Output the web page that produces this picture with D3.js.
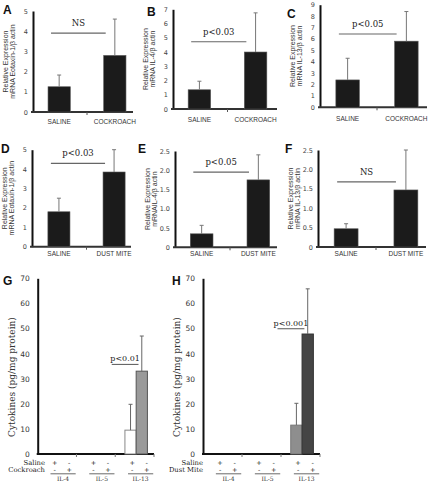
<!DOCTYPE html>
<html><head><meta charset="utf-8">
<script src="https://cdn.jsdelivr.net/npm/d3@7"></script>
<style>body{margin:0;background:#fff}svg{display:block}</style>
</head><body><svg id="c" width="428" height="483"></svg>
<script>
// ---------------- data ----------------
const catsCockroach = ["SALINE", "COCKROACH"];
const catsDustMite = ["SALINE", "DUST MITE"];
const eotaxinCockroach = [1.25, 2.8];
const eotaxinCockroachErr = [0.58, 1.8];
const il4Cockroach = [1.35, 4.0];
const il4CockroachErr = [0.6, 2.75];
const il13Cockroach = [2.4, 5.8];
const il13CockroachErr = [1.9, 2.6];
const eotaxinDustMite = [1.8, 3.85];
const eotaxinDustMiteErr = [0.7, 1.15];
const il4DustMite = [0.35, 1.75];
const il4DustMiteErr = [0.22, 0.65];
const il13DustMite = [0.47, 1.47];
const il13DustMiteErr = [0.13, 1.03];
const sigText = ["NS", "p<0.03", "p<0.05", "p<0.03", "p<0.05", "NS"];
const sigLevel = [3.9, 4.72, 6.43, 4.3, 1.95, 1.68];
const yMax = [5, 7, 9, 5, 2.5, 2.5];
const yStep = [1, 1, 1, 1, 0.5, 0.5];
const yLabelLine1 = "Relative Expression";
const yLabelLine2 = ["mRNA Eotaxin-1/\u03b2 actin", "mRNA IL-4/\u03b2 actin", "mRNA IL-13/\u03b2 actin",
                     "mRNA Eotaxin-1/\u03b2 actin", "mRNAIL-4/\u03b2 actin", "mRNA IL-13/\u03b2 actin"];
const panelLetters = ["A", "B", "C", "D", "E", "F", "G", "H"];

const cytokines = ["IL-4", "IL-5", "IL-13"];
const treatments = ["saline", "allergen"];
const cockroachSaline = [0, 0, 9.5];
const cockroachSalineErr = [0, 0, 10.3];
const cockroachAllergen = [0, 0, 33];
const cockroachAllergenErr = [0, 0, 14];
const dustMiteSaline = [0, 0, 11.5];
const dustMiteSalineErr = [0, 0, 8.7];
const dustMiteAllergen = [0, 0, 47.8];
const dustMiteAllergenErr = [0, 0, 18];
const proteinMax = 70;
const proteinStep = 10;
const salineSigns = ["+", "-"];
const allergenSigns = ["-", "+"];
const proteinSigText = ["p<0.01", "p<0.001"];
const proteinSigLevel = [35.7, 49.9];
const rowLabels = [["Saline", "Cockroach"], ["Saline", "Dust Mite"]];
const proteinYLabel = "Cytokines (pg/mg protein)";

// ---------------- layout ----------------
const svg = d3.select("#c");
svg.append("rect").attr("width", 428).attr("height", 483).attr("fill", "#fff");

const topLayout = [
  {x0: 33,  x1: 133, y0: 112,   yT: 11,    bx: [33, 141],  lx: 3,   ly: 14,  pad: 7},
  {x0: 173, x1: 277, y0: 109,   yT: 9.3,   bx: [173, 282], lx: 147, ly: 16,  pad: 8},
  {x0: 320, x1: 427, y0: 107.3, yT: 4.7,   bx: [320, 434], lx: 287, ly: 18,  pad: 9},
  {x0: 32,  x1: 131, y0: 246.7, yT: 149.7, bx: [33, 140],  lx: 1,   ly: 153, pad: 4},
  {x0: 175, x1: 277, y0: 247.3, yT: 151,   bx: [175, 285], lx: 138, ly: 153, pad: 4},
  {x0: 318, x1: 426, y0: 247,   yT: 150,   bx: [318, 434], lx: 285, ly: 153, pad: 4}
];

function topPanel(i, cats, vals, errs) {
  const L = topLayout[i];
  const g = svg.append("g");
  const y = d3.scaleLinear().domain([0, yMax[i]]).range([L.y0, L.yT]);
  const x = d3.scaleBand().domain(cats).range(L.bx).paddingInner(0.6).paddingOuter(0.27);
  const ticks = d3.range(0, yMax[i] + 1e-9, yStep[i]);
  const fmt = yStep[i] < 1 ? (d => d === 0 ? "0" : d3.format(".1f")(d)) : d3.format("d");

  const ya = g.append("g").attr("transform", `translate(${L.x0},0)`)
    .call(d3.axisLeft(y).tickValues(ticks).tickFormat(fmt).tickSize(0).tickPadding(5));
  ya.select(".domain").attr("stroke", "#111").attr("stroke-width", 2);
  ya.selectAll("text").attr("font-family", "DejaVu Sans").attr("font-size", 6.5).attr("fill", "#444");

  g.append("line").attr("x1", L.x0 - 2).attr("x2", L.x1).attr("y1", L.y0).attr("y2", L.y0)
    .attr("stroke", "#333").attr("stroke-width", 2);
  const mid = (x(cats[0]) + x.bandwidth() + x(cats[1])) / 2;
  g.append("line").attr("x1", mid).attr("x2", mid).attr("y1", L.y0).attr("y2", L.y0 + 3)
    .attr("stroke", "#555").attr("stroke-width", 1);

  const xa = g.append("g").attr("transform", `translate(0,${L.y0})`)
    .call(d3.axisBottom(x).tickSize(0).tickPadding(L.pad));
  xa.select(".domain").remove();
  xa.selectAll("text").attr("font-family", "Liberation Sans").attr("font-size", 7)
    .attr("fill", "#333").attr("transform", "scale(0.93,1)");

  cats.forEach((c, k) => {
    g.append("rect").attr("x", x(c)).attr("y", y(vals[k])).attr("width", x.bandwidth())
      .attr("height", y(0) - y(vals[k])).attr("fill", "#1b1b1b").attr("stroke", "#555").attr("stroke-width", 0.6);
    const cx = x(c) + x.bandwidth() / 2;
    g.append("line").attr("x1", cx).attr("x2", cx).attr("y1", y(vals[k])).attr("y2", y(vals[k] + errs[k]))
      .attr("stroke", "#777").attr("stroke-width", 1);
    g.append("line").attr("x1", cx - 2).attr("x2", cx + 2).attr("y1", y(vals[k] + errs[k])).attr("y2", y(vals[k] + errs[k]))
      .attr("stroke", "#777").attr("stroke-width", 1);
  });

  const sx1 = x(cats[0]) + 3, sx2 = x(cats[1]) + 2, sy = y(sigLevel[i]);
  g.append("line").attr("x1", sx1).attr("x2", sx2).attr("y1", sy).attr("y2", sy)
    .attr("stroke", "#666").attr("stroke-width", 1.2);
  g.append("text").attr("x", (sx1 + sx2) / 2).attr("y", sy - 7).attr("text-anchor", "middle")
    .attr("font-family", "DejaVu Serif").attr("font-size", 8.5).attr("fill", "#222").text(sigText[i]);

  g.append("text").attr("x", L.lx).attr("y", L.ly).attr("font-family", "Liberation Sans")
    .attr("font-weight", "bold").attr("font-size", 12).attr("fill", "#111").text(panelLetters[i]);

  const cy = (L.y0 + L.yT) / 2;
  const yl = g.append("text").attr("transform", `translate(${L.x0 - 24},${cy}) rotate(-90)`)
    .attr("text-anchor", "middle").attr("font-family", "Liberation Sans").attr("font-size", 7).attr("fill", "#333");
  yl.append("tspan").attr("x", 0).attr("y", -3.5).attr("dominant-baseline", "central").text(yLabelLine1);
  yl.append("tspan").attr("x", 0).attr("y", 3.3).attr("dominant-baseline", "central").text(yLabelLine2[i]);
}

topPanel(0, catsCockroach, eotaxinCockroach, eotaxinCockroachErr);
topPanel(1, catsCockroach, il4Cockroach, il4CockroachErr);
topPanel(2, catsCockroach, il13Cockroach, il13CockroachErr);
topPanel(3, catsDustMite, eotaxinDustMite, eotaxinDustMiteErr);
topPanel(4, catsDustMite, il4DustMite, il4DustMiteErr);
topPanel(5, catsDustMite, il13DustMite, il13DustMiteErr);

const botLayout = [
  {x0: 37.7, x1: 154, y0: 454, yT: 278.3, lx: 3, ly: 285, rowRight: 45,
   fills: ["#ffffff", "#9a9a9a"], strokes: ["#888", "#555"]},
  {x0: 203, x1: 320, y0: 454, yT: 278.3, lx: 172, ly: 285, rowRight: 203,
   fills: ["#8e8e8e", "#454545"], strokes: ["#777", "#333"]}
];
const row1Y = 464.5, row2Y = 472.4, underY = 473.8, groupY = 480.8;

function proteinPanel(j, salineVals, salineErr, allergenVals, allergenErr) {
  const L = botLayout[j];
  const g = svg.append("g");
  const y = d3.scaleLinear().domain([0, proteinMax]).range([L.y0, L.yT]);
  const xg = d3.scaleBand().domain(cytokines).range([L.x0, L.x1]).padding(0);
  const w = xg.bandwidth();
  const xs = d3.scaleBand().domain(treatments).range([0.25 * w, 0.83 * w]).padding(0);
  const xl = d3.scaleBand().domain(treatments).range([0.25 * w, 1.0 * w]).padding(0);

  const ya = g.append("g").attr("transform", `translate(${L.x0},0)`)
    .call(d3.axisLeft(y).tickValues(d3.range(0, proteinMax + 1, proteinStep)).tickSize(0).tickPadding(8));
  ya.select(".domain").attr("stroke", "#111").attr("stroke-width", 2);
  ya.selectAll("text").attr("font-family", "DejaVu Sans").attr("font-size", 7.5).attr("fill", "#333");

  g.append("line").attr("x1", L.x0 - 1).attr("x2", L.x1).attr("y1", L.y0).attr("y2", L.y0)
    .attr("stroke", "#111").attr("stroke-width", 2);
  cytokines.forEach((c, k) => {
    const bx = k < cytokines.length - 1 ? xg(c) + w : L.x1;
    g.append("line").attr("x1", bx).attr("x2", bx).attr("y1", L.y0).attr("y2", L.y0 + 3)
      .attr("stroke", "#777").attr("stroke-width", 1);
  });

  const series = [[salineVals, salineErr], [allergenVals, allergenErr]];
  cytokines.forEach((c, k) => {
    treatments.forEach((t, s) => {
      const v = series[s][0][k], e = series[s][1][k];
      if (v <= 0) return;
      const bx = xg(c) + xs(t);
      g.append("rect").attr("x", bx).attr("y", y(v)).attr("width", xs.bandwidth())
        .attr("height", y(0) - y(v)).attr("fill", L.fills[s]).attr("stroke", L.strokes[s]).attr("stroke-width", 1);
      const cx = bx + xs.bandwidth() / 2;
      g.append("line").attr("x1", cx).attr("x2", cx).attr("y1", y(v)).attr("y2", y(v + e))
        .attr("stroke", "#666").attr("stroke-width", 1);
      g.append("line").attr("x1", cx - 2).attr("x2", cx + 2).attr("y1", y(v + e)).attr("y2", y(v + e))
        .attr("stroke", "#666").attr("stroke-width", 1);
    });
    // +/- rows
    treatments.forEach((t, s) => {
      const lx = xg(c) + xl(t) + xl.bandwidth() / 2;
      g.append("text").attr("x", lx).attr("y", row1Y).attr("text-anchor", "middle")
        .attr("font-family", "DejaVu Sans").attr("font-size", 6.5).attr("fill", "#222").text(salineSigns[s]);
      g.append("text").attr("x", lx).attr("y", row2Y).attr("text-anchor", "middle")
        .attr("font-family", "DejaVu Sans").attr("font-size", 6.5).attr("fill", "#222").text(allergenSigns[s]);
    });
    const u1 = xg(c) + 0.33 * w, u2 = xg(c) + 0.98 * w;
    g.append("line").attr("x1", u1).attr("x2", u2).attr("y1", underY).attr("y2", underY)
      .attr("stroke", "#444").attr("stroke-width", 0.8);
    g.append("text").attr("x", (u1 + u2) / 2).attr("y", groupY).attr("text-anchor", "middle")
      .attr("font-family", "DejaVu Serif").attr("font-size", 6).attr("fill", "#333").text(c);
  });

  g.append("text").attr("x", L.rowRight).attr("y", row1Y).attr("text-anchor", "end")
    .attr("font-family", "DejaVu Serif").attr("font-size", 6.8).attr("fill", "#222").text(rowLabels[j][0]);
  g.append("text").attr("x", L.rowRight).attr("y", row2Y).attr("text-anchor", "end")
    .attr("font-family", "DejaVu Serif").attr("font-size", 6.8).attr("fill", "#222").text(rowLabels[j][1]);

  // significance
  const last = cytokines[cytokines.length - 1];
  const s1 = xg(last) - 0.09 * w, s2 = xg(last) + 0.6 * w, sy = y(proteinSigLevel[j]);
  g.append("line").attr("x1", s1).attr("x2", s2).attr("y1", sy).attr("y2", sy)
    .attr("stroke", "#555").attr("stroke-width", 1);
  g.append("text").attr("x", (s1 + s2) / 2).attr("y", sy - 3).attr("text-anchor", "middle")
    .attr("font-family", "DejaVu Serif").attr("font-size", 8).attr("fill", "#222").text(proteinSigText[j]);

  g.append("text").attr("x", L.lx).attr("y", L.ly).attr("font-family", "Liberation Sans")
    .attr("font-weight", "bold").attr("font-size", 12).attr("fill", "#111").text(panelLetters[6 + j]);

  g.append("text").attr("transform", `translate(${L.x0 - 26},377) rotate(-90)`)
    .attr("text-anchor", "middle").attr("dominant-baseline", "central")
    .attr("font-family", "DejaVu Serif").attr("font-size", 9).attr("fill", "#333").text(proteinYLabel);
}

proteinPanel(0, cockroachSaline, cockroachSalineErr, cockroachAllergen, cockroachAllergenErr);
proteinPanel(1, dustMiteSaline, dustMiteSalineErr, dustMiteAllergen, dustMiteAllergenErr);
</script></body></html>
